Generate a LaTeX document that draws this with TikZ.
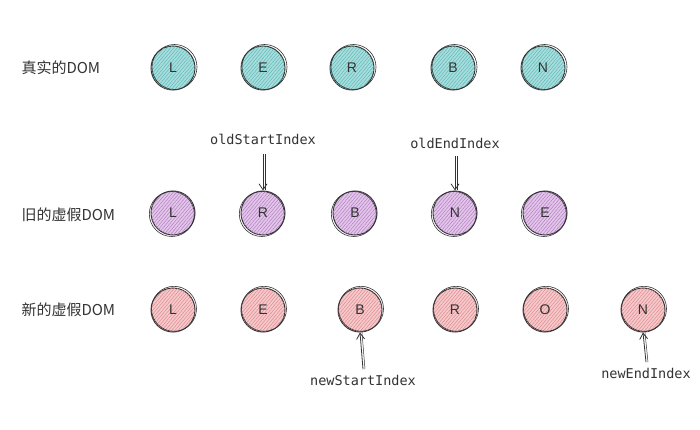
\documentclass[tikz,border=0pt]{standalone}
\usepackage{fontspec}
\setmainfont{Liberation Sans}
\newfontfamily\cjk{Noto Sans CJK SC}
\newfontfamily\monof{DejaVu Sans Mono}
\usetikzlibrary{patterns.meta,arrows.meta}
\definecolor{tealc}{HTML}{A8DEDD}
\definecolor{tealh}{HTML}{5DB8B8}
\definecolor{purpc}{HTML}{E3C6EA}
\definecolor{purph}{HTML}{B27FC2}
\definecolor{pinkc}{HTML}{F6C9CB}
\definecolor{pinkh}{HTML}{DE8A90}
\definecolor{inkc}{HTML}{333333}
\tikzset{
  x=1pt,y=-1pt,
  ball/.style={circle,minimum size=44pt,inner sep=0pt,draw=inkc,line width=1pt,font=\fontsize{14}{14}\selectfont\color{inkc}},
  tball/.style={ball,fill=tealc,postaction={pattern={Lines[angle=50,distance=2.5pt,line width=0.5pt]},pattern color=tealh}},
  pball/.style={ball,fill=purpc,postaction={pattern={Lines[angle=50,distance=2.5pt,line width=0.5pt]},pattern color=purph}},
  rball/.style={ball,fill=pinkc,postaction={pattern={Lines[angle=50,distance=2.5pt,line width=0.5pt]},pattern color=pinkh}},
  rowlabel/.style={anchor=west,font=\cjk\fontsize{15}{15}\selectfont\color{inkc}},
  idx/.style={font=\monof\fontsize{13.5}{13.5}\selectfont\color{inkc}},
  ptr/.style={draw=inkc,line width=0.8pt,-{Straight Barb[length=6pt,width=8pt]}},
  sketch/.style={draw=inkc,line width=0.6pt}
}
\begin{document}
\begin{tikzpicture}
\useasboundingbox (0,0) rectangle (700,430);
\fill[white] (0,0) rectangle (700,430);
% row labels
\node[rowlabel] (lab1) at (18,68) {真实的DOM};
\node[rowlabel] (lab2) at (18,215) {旧的虚假DOM};
\node[rowlabel] (lab3) at (18,310) {新的虚假DOM};
% real DOM
\foreach \n/\x/\t in {a1/173/L,a2/263/E,a3/352/R,a4/453/B,a5/543/N}{
  \node[tball] (\n) at (\x,68) {\t};
  \draw[sketch] ([shift={(1.5,-1)}]\x,68) circle[radius=22.5];
}
% old virtual DOM
\foreach \n/\x/\t in {b1/173/L,b2/263/R,b3/355/B,b4/455/N,b5/545/E}{
  \node[pball] (\n) at (\x,213) {\t};
  \draw[sketch] ([shift={(-1.2,1)}]\x,213) circle[radius=22.5];
}
% new virtual DOM
\foreach \n/\x/\t in {c1/173/L,c2/263/E,c3/360/B,c4/455/R,c5/545/O,c6/643/N}{
  \node[rball] (\n) at (\x,310) {\t};
  \draw[sketch] ([shift={(1,-1.2)}]\x,310) circle[radius=22.5];
}
% pointers
\node[idx] (os) at (263,139) {oldStartIndex};
\node[idx] (oe) at (455,143) {oldEndIndex};
\node[idx] (ns) at (363,380) {newStartIndex};
\node[idx] (ne) at (646,373) {newEndIndex};
\draw[ptr] (os.south) ++(0,6) -- (b2.north);
\draw[ptr] (oe.south) ++(0,4) -- (b4.north);
\draw[ptr] (ns.north) ++(0,-2) -- (c3.south);
\draw[ptr] (ne.north) ++(0,-2) -- (c6.south);
\draw[inkc,line width=0.5pt] ([xshift=2pt]os.south) ++(0,6) -- ([xshift=2pt]b2.north);
\draw[inkc,line width=0.5pt] ([xshift=2pt]oe.south) ++(0,4) -- ([xshift=2pt]b4.north);
\draw[inkc,line width=0.5pt] ([xshift=2pt]ns.north) ++(0,-2) -- ([xshift=2pt]c3.south);
\draw[inkc,line width=0.5pt] ([xshift=2pt]ne.north) ++(0,-2) -- ([xshift=2pt]c6.south);
\end{tikzpicture}
\end{document}
